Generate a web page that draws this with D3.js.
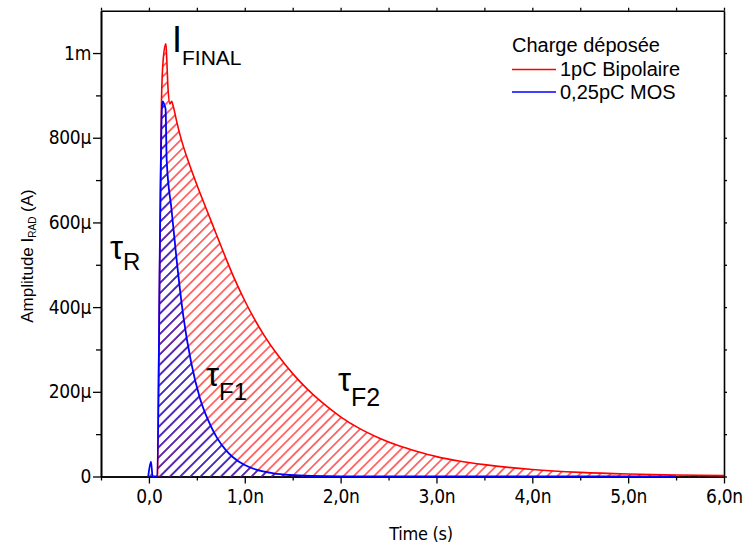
<!DOCTYPE html>
<html><head><meta charset="utf-8">
<script src="https://cdn.jsdelivr.net/npm/d3@7"></script>
<style>body{margin:0;background:#fff}svg{display:block}</style>
</head><body>
<svg id="c" width="744" height="548"></svg>
<script>
// Time in ns, amplitude in mA
const bipolarT = [0.09,0.115,0.131,0.149,0.177,0.183,0.2,0.219,0.237,0.254,0.29,0.323,0.36,0.41,0.5,0.6,0.7,0.8,0.9,1.0,1.1,1.2,1.35,1.5,1.65,1.8,2.0,2.2,2.4,2.6,2.8,3.0,3.25,3.5,3.75,4.0,4.5,5.0,5.5,6.0];
const bipolarV = [0,0.56,0.886,0.985,1.022,1.0,0.914,0.88,0.886,0.874,0.838,0.808,0.779,0.745,0.689,0.631,0.574,0.517,0.463,0.415,0.372,0.334,0.285,0.243,0.207,0.176,0.141,0.113,0.091,0.073,0.059,0.047,0.036,0.028,0.0215,0.0165,0.0098,0.0058,0.0034,0.002];
const mosT = [-0.007,0.021,0.039,0.088,0.115,0.135,0.143,0.165,0.174,0.185,0.236,0.289,0.358,0.44,0.532,0.62,0.706,0.8,0.88,1.0,1.12,1.3,1.47,1.7,2.0,3.0,4.0,5.0,5.5];
const mosV = [0,0.035,0,0,0.559,0.87,0.886,0.875,0.867,0.748,0.63,0.512,0.38,0.27,0.185,0.132,0.093,0.063,0.045,0.027,0.016,0.0075,0.0035,0.0012,0.0003,0,0,0,0];
const xTickValues = [0,1,2,3,4,5,6];
const xTickLabels = ["0,0","1,0n","2,0n","3,0n","4,0n","5,0n","6,0n"];
const xMinorTicks = [-0.5,0.5,1.5,2.5,3.5,4.5,5.5];
const yTickValues = [0,0.2,0.4,0.6,0.8,1.0];
const yTickLabels = ["0","200µ","400µ","600µ","800µ","1m"];
const yMinorTicks = [0.1,0.3,0.5,0.7,0.9];
const seriesNames = ["1pC Bipolaire","0,25pC MOS"];
const seriesColors = ["#ff0000","#0000ff"];

const svg = d3.select("#c");
const x = d3.scaleLinear().domain([-0.5,6]).range([101,724]);
const y = d3.scaleLinear().domain([0,1.1]).range([476.5,10.7]);

const defs = svg.append("defs");
function hatch(id,color,w){
  const p = defs.append("pattern").attr("id",id).attr("patternUnits","userSpaceOnUse")
    .attr("width",7.2).attr("height",7.2).attr("patternTransform","rotate(45)");
  p.append("line").attr("x1",3.6).attr("y1",-1).attr("x2",3.6).attr("y2",8.2)
    .attr("stroke",color).attr("stroke-width",w);
}
hatch("hr",seriesColors[0],1.1);
hatch("hb","#2222d8",1.5);

const tickFont = "'DejaVu Sans Condensed','DejaVu Sans',sans-serif";
const labFont = "'Liberation Sans',Arial,sans-serif";

// axes
const gx = svg.append("g").attr("transform",`translate(0,${y(0)})`)
  .call(d3.axisBottom(x).tickValues(xTickValues).tickFormat((d,i)=>xTickLabels[i]).tickSize(7).tickSizeOuter(0).tickPadding(6));
const gxm = svg.append("g").attr("transform",`translate(0,${y(0)})`)
  .call(d3.axisBottom(x).tickValues(xMinorTicks).tickFormat("").tickSize(4).tickSizeOuter(0));
const gy = svg.append("g").attr("transform",`translate(${x(-0.5)},0)`)
  .call(d3.axisLeft(y).tickValues(yTickValues).tickFormat((d,i)=>yTickLabels[i]).tickSize(8).tickSizeOuter(0).tickPadding(2));
const gym = svg.append("g").attr("transform",`translate(${x(-0.5)},0)`)
  .call(d3.axisLeft(y).tickValues(yMinorTicks).tickFormat("").tickSize(5).tickSizeOuter(0));
const gt = svg.append("g").attr("transform",`translate(0,${y(1.1)})`)
  .call(d3.axisTop(x).tickValues(xTickValues.concat(xMinorTicks)).tickFormat("").tickSize(3).tickSizeOuter(0));
const gr = svg.append("g").attr("transform",`translate(${x(6)},0)`)
  .call(d3.axisRight(y).tickValues(yTickValues.concat(yMinorTicks)).tickFormat("").tickSize(3).tickSizeOuter(0));
[gx,gxm,gy,gym,gt,gr].forEach(g=>{
  g.selectAll("path.domain").attr("stroke","#000").attr("stroke-width",1.6);
  g.selectAll(".tick line").attr("stroke","#000").attr("stroke-width",1.3);
  g.selectAll("text").attr("font-family",tickFont).attr("font-size",19).attr("fill","#000");
});
gy.selectAll("text").attr("letter-spacing",-0.3);
gx.selectAll("text").attr("letter-spacing",-0.3);

// series
const area = d3.area().x(d=>x(d[0])).y0(y(0)).y1(d=>y(d[1])).curve(d3.curveMonotoneX);
const line = d3.line().x(d=>x(d[0])).y(d=>y(d[1])).curve(d3.curveMonotoneX);
const bip = bipolarT.map((t,i)=>[t,bipolarV[i]]);
const mos = mosT.map((t,i)=>[t,mosV[i]]);
svg.append("path").attr("d",area(bip)).attr("fill","url(#hr)");
svg.append("path").attr("d",area(mos)).attr("fill","url(#hb)");
svg.append("path").attr("d",line(bip)).attr("fill","none").attr("stroke",seriesColors[0]).attr("stroke-width",1.6);
svg.append("path").attr("d",line(mos)).attr("fill","none").attr("stroke",seriesColors[1]).attr("stroke-width",1.8);

// axis titles
svg.append("text").attr("x",421).attr("y",540).attr("text-anchor","middle")
  .attr("font-family",tickFont).attr("font-size",18).attr("letter-spacing",-0.3).text("Time (s)");
const yt = svg.append("text").attr("transform","translate(33,256) rotate(-90)").attr("text-anchor","middle")
  .attr("font-family",labFont).attr("font-size",17);
yt.append("tspan").text("Amplitude I");
yt.append("tspan").attr("font-size",10).attr("dy",3).text("RAD");
yt.append("tspan").attr("dy",-3).text(" (A)");

// annotations
function ann(xp,yp,main,sub,fs,sfs,dy){
  const t = svg.append("text").attr("x",xp).attr("y",yp).attr("font-family",labFont).attr("font-size",fs).attr("fill","#000");
  t.append("tspan").text(main);
  t.append("tspan").attr("font-size",sfs).attr("dy",dy).text(sub);
}
ann(172,52,"I","FINAL",36,21,13);
ann(110,259,"τ","R",33,24,11);
ann(206,386,"τ","F1",33,24,14);
ann(338,391,"τ","F2",33,25,15);

// legend
const lg = svg.append("g").attr("font-family",labFont).attr("font-size",20);
lg.append("text").attr("x",512).attr("y",52).text("Charge déposée");
seriesNames.forEach((n,i)=>{
  const yy = 69.5 + i*22.5;
  lg.append("line").attr("x1",512).attr("x2",556).attr("y1",yy).attr("y2",yy).attr("stroke",seriesColors[i]).attr("stroke-width",1.4);
  lg.append("text").attr("x",560).attr("y",yy+6.5).text(n);
});
</script>
</body></html>
